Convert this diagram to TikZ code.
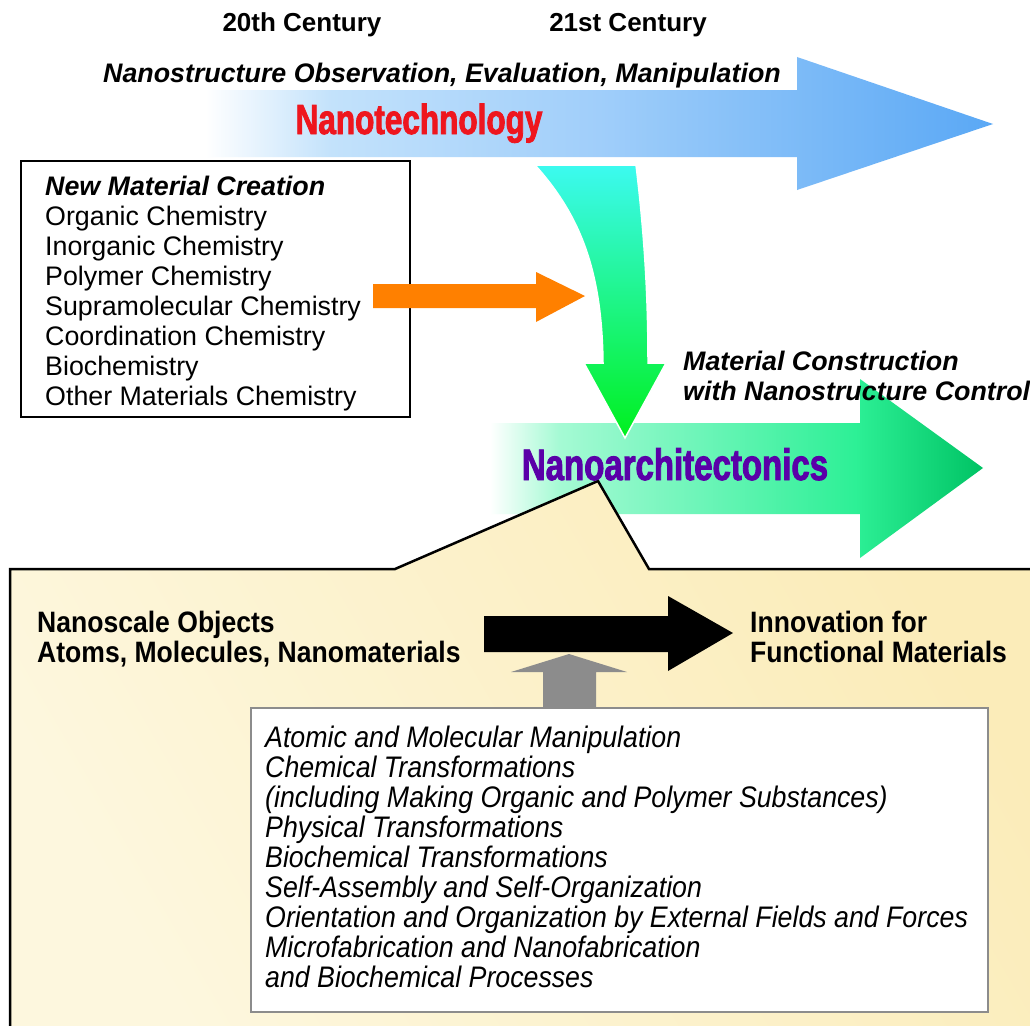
\documentclass[tikz,border=0pt]{standalone}
\usepackage{fontspec}
\setmainfont{Liberation Sans}
\newfontfamily\narrowfont[FakeStretch=0.9]{Liberation Sans}
\newfontfamily\posterfont[FakeStretch=0.75,FakeBold=2]{Liberation Sans}

\definecolor{blueA}{RGB}{195,226,251}
\definecolor{blueB}{RGB}{160,206,250}
\definecolor{blueC}{RGB}{90,168,245}
\definecolor{greenA}{RGB}{165,250,212}
\definecolor{greenB}{RGB}{110,245,185}
\definecolor{greenC}{RGB}{45,240,150}
\definecolor{greenD}{RGB}{0,195,100}
\definecolor{cyantop}{RGB}{60,250,240}
\definecolor{cyanmid}{RGB}{85,245,185}
\definecolor{greentip}{RGB}{0,240,30}
\definecolor{orangearrow}{RGB}{255,128,0}
\definecolor{nanored}{RGB}{238,22,30}
\definecolor{nanopurple}{RGB}{90,0,168}
\definecolor{paleyellow}{RGB}{253,247,222}
\definecolor{warmyellow}{RGB}{251,236,185}
\definecolor{boxgray}{RGB}{140,140,140}

\pgfdeclarehorizontalshading{bluefade}{100bp}{color(0bp)=(white); color(25bp)=(white); color(33bp)=(blueA); color(50bp)=(blueB); color(75bp)=(blueC); color(100bp)=(blueC)}
\pgfdeclarehorizontalshading{greenfade}{100bp}{color(0bp)=(white); color(25bp)=(white); color(32bp)=(greenA); color(46bp)=(greenB); color(62bp)=(greenC); color(75bp)=(greenD); color(100bp)=(greenD)}

\begin{document}
\begin{tikzpicture}[x=1pt, y=-1pt,
	century/.style={anchor=base, inner sep=0pt, font=\fontsize{26}{30}\selectfont\bfseries},
	headline/.style={anchor=base west, inner sep=0pt, font=\fontsize{26.8}{30}\selectfont\bfseries\itshape},
	chemline/.style={anchor=base west, inner sep=0pt, font=\fontsize{26.8}{30}\selectfont},
	bigword/.style={anchor=base, inner sep=0pt, font=\posterfont\fontsize{42}{44}\selectfont\bfseries},
	objline/.style={anchor=base west, inner sep=0pt, font=\narrowfont\fontsize{29.5}{30}\selectfont\bfseries},
	procline/.style={anchor=base west, inner sep=0pt, font=\narrowfont\fontsize{29.7}{30}\selectfont\itshape}]
	
	\clip (0, 0) rectangle (1030, 1025);
	\fill[white] (0, 0) rectangle (1030, 1025);
	
	\node[century] at (302, 32) (c20) {20th Century};
	\node[century] at (628, 32) (c21) {21st Century};
	
	\shade[shading=bluefade] (205, 90) -- (797, 90) -- (797, 57) -- (993, 124) -- (797, 190) -- (797, 157) -- (205, 157) -- cycle;
	\node[headline] at (103, 82) (observe) {Nanostructure Observation, Evaluation, Manipulation};
	\node[bigword, text=nanored] at (419, 134) (nanotech) {Nanotechnology};
	
	\node[draw, line width=2, minimum width=389, minimum height=256, inner sep=0pt] at (215.5, 289) (newbox) {};
	\node[headline] at (45, 195) (newmat) {New Material Creation};
	\node[chemline] at (45, 225) (orgchem) {Organic Chemistry};
	\node[chemline] at (45, 255) (inorgchem) {Inorganic Chemistry};
	\node[chemline] at (45, 285) (polychem) {Polymer Chemistry};
	\node[chemline] at (45, 315) (supchem) {Supramolecular Chemistry};
	\node[chemline] at (45, 345) (coordchem) {Coordination Chemistry};
	\node[chemline] at (45, 375) (biochem) {Biochemistry};
	\node[chemline] at (45, 405) (otherchem) {Other Materials Chemistry};
	
	\fill[orangearrow] (373, 284) -- (536, 284) -- (536, 272) -- (585, 296) -- (536, 322) -- (536, 308) -- (373, 308) -- cycle;
	
	\shade[shading=greenfade] (490, 423) -- (860, 423) -- (860, 379) -- (983, 468) -- (860, 558) -- (860, 514) -- (490, 514) -- cycle;
	
	\draw[white, line width=1.5, top color=cyantop, middle color=cyanmid, bottom color=greentip] (535, 165) -- (636, 165) .. controls (645, 240) and (648, 300) .. (648, 363) -- (666, 363) -- (625, 438) -- (584, 363) -- (603, 363) .. controls (602, 270) and (580, 215) .. (535, 165) -- cycle;
	
	\node[headline] at (683, 370) (matcon) {Material Construction};
	\node[headline] at (683, 400) (withnano) {with Nanostructure Control};
	
	\draw[line width=2.5, left color=paleyellow, right color=warmyellow, shading angle=120] (10, 1040) -- (10, 569) -- (395, 569) -- (598, 481) -- (649, 569) -- (1040, 569) -- (1040, 1040) -- cycle;
	\node[bigword, text=nanopurple, font=\posterfont\fontsize{44}{46}\selectfont\bfseries] at (675, 480) (nanoarch) {Nanoarchitectonics};
	
	\node[objline] at (37, 632) (nanoobj) {Nanoscale Objects};
	\node[objline] at (37, 662) (atoms) {Atoms, Molecules, Nanomaterials};
	\node[objline] at (750, 632) (innov) {Innovation for};
	\node[objline] at (750, 662) (funcmat) {Functional Materials};
	
	\fill[black] (484, 616) -- (668, 616) -- (668, 596) -- (733, 633) -- (668, 671) -- (668, 652) -- (484, 652) -- cycle;
	\fill[boxgray] (543, 712) -- (543, 672) -- (511, 672) -- (569, 654) -- (627, 672) -- (596, 672) -- (596, 712) -- cycle;
	
	\node[draw=boxgray, fill=white, line width=2.5, minimum width=737, minimum height=304, inner sep=0pt] at (619.5, 860) (procbox) {};
	\node[procline] at (265, 747) (p1) {Atomic and Molecular Manipulation};
	\node[procline] at (265, 777) (p2) {Chemical Transformations};
	\node[procline] at (265, 807) (p3) {(including Making Organic and Polymer Substances)};
	\node[procline] at (265, 837) (p4) {Physical Transformations};
	\node[procline] at (265, 867) (p5) {Biochemical Transformations};
	\node[procline] at (265, 897) (p6) {Self-Assembly and Self-Organization};
	\node[procline] at (265, 927) (p7) {Orientation and Organization by External Fields and Forces};
	\node[procline] at (265, 957) (p8) {Microfabrication and Nanofabrication};
	\node[procline] at (265, 987) (p9) {and Biochemical Processes};
	
\end{tikzpicture}
\end{document}
